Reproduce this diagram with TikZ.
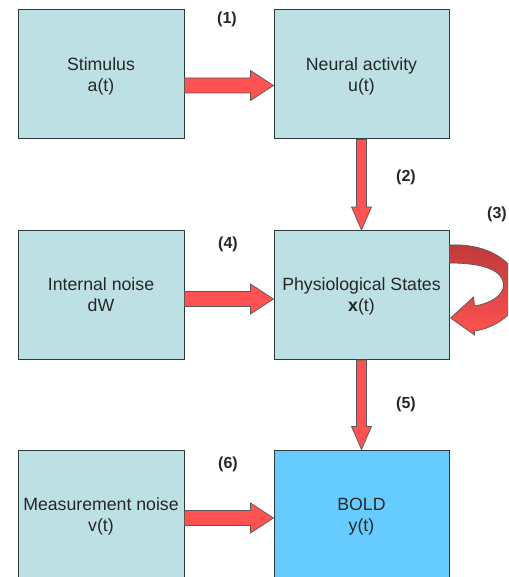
\documentclass[tikz,border=0pt]{standalone}
\usepackage{fontspec}
\setmainfont{Liberation Sans}
\usetikzlibrary{calc,positioning}
\definecolor{BoxCyan}{HTML}{BCE0E4}
\definecolor{BoldBlue}{HTML}{66CCFF}
\definecolor{ArrowRed}{HTML}{FF5252}
\definecolor{LoopDark}{HTML}{BE3A3A}
\definecolor{EdgeGray}{HTML}{2F3A3C}

\tikzset{
  stagebox/.style={draw=EdgeGray, line width=1pt, fill=BoxCyan,
    minimum height=129pt, align=center, inner sep=0pt, text depth=-3pt,
    font=\fontsize{17.7}{21}\selectfont, text=black!85},
  steplabel/.style={font=\fontsize{16}{18}\selectfont\bfseries, text=black!85},
  blockarrow/.style={fill=ArrowRed, draw=black!65, line width=0.7pt,
    line join=miter}
}

% filled block arrow: start, tip, shaft half width, head half width
\newcommand{\blockarrow}[4]{%
  \filldraw[blockarrow]
    ($(#1)!#3!90:(#2)$) --
    ($(#2)!23pt!(#1)!#3!90:(#2)$) --
    ($(#2)!23pt!(#1)!#4!90:(#2)$) --
    (#2) --
    ($(#2)!23pt!(#1)!#4!-90:(#2)$) --
    ($(#2)!23pt!(#1)!#3!-90:(#2)$) --
    ($(#1)!#3!-90:(#2)$) -- cycle;}

\begin{document}
\begin{tikzpicture}[x=1pt, y=-1pt]
  \clip (0,0) rectangle (508,577);
  % stages
  \node[stagebox, minimum width=166pt] (stim) at (101,74.5)
    {Stimulus\\a(t)};
  \node[stagebox, minimum width=175pt] (neural) at (361.5,74.5)
    {Neural activity\\u(t)};
  \node[stagebox, minimum width=166pt] (noise) at (101,295)
    {Internal noise\\dW};
  \node[stagebox, minimum width=175pt] (phys) at (361.5,295)
    {Physiological States\\\textbf{x}(t)};
  \node[stagebox, minimum width=166pt] (meas) at (101,514.5)
    {Measurement noise\\v(t)};
  \node[stagebox, minimum width=175pt, fill=BoldBlue] (bold) at (361.5,514.5)
    {BOLD\\y(t)};
  % arrow end points
  \coordinate (s1) at ($(stim.east)+(0,11)$);
  \coordinate (t1) at ($(neural.west)+(0,11)$);
  \coordinate (s4) at ($(noise.east)+(0,4)$);
  \coordinate (t4) at ($(phys.west)+(0,4)$);
  \coordinate (s6) at ($(meas.east)+(0,3.5)$);
  \coordinate (t6) at ($(bold.west)+(0,3.5)$);
  % block arrows
  \blockarrow{s1}{t1}{7.5pt}{15pt}
  \blockarrow{neural.south}{phys.north}{5pt}{10pt}
  \blockarrow{s4}{t4}{7.5pt}{15pt}
  \blockarrow{phys.south}{bold.north}{5pt}{10pt}
  \blockarrow{s6}{t6}{7.5pt}{15pt}
  % feedback loop on the physiological states
  \begin{scope}[shift={(phys.east)}]
    \shadedraw[top color=LoopDark, bottom color=ArrowRed, draw=black!65,
      line width=0.7pt]
      (0,-50) .. controls (42,-52) and (70,-30) .. (70,-5)
      .. controls (69,18) and (46,33) .. (25,36)
      -- (25,40) -- (1,23) -- (24,2) -- (25,11)
      .. controls (42,8) and (54,0) .. (54,-10)
      .. controls (54,-24) and (35,-32) .. (0,-32) -- cycle;
  \end{scope}
  % step numbers
  \node[steplabel] (n1) at (227,19) {(1)};
  \node[steplabel] (n2) at (406,177) {(2)};
  \node[steplabel] (n3) at (497,214) {(3)};
  \node[steplabel] (n4) at (228,244) {(4)};
  \node[steplabel] (n5) at (406,404) {(5)};
  \node[steplabel] (n6) at (228,464) {(6)};
\end{tikzpicture}
\end{document}
